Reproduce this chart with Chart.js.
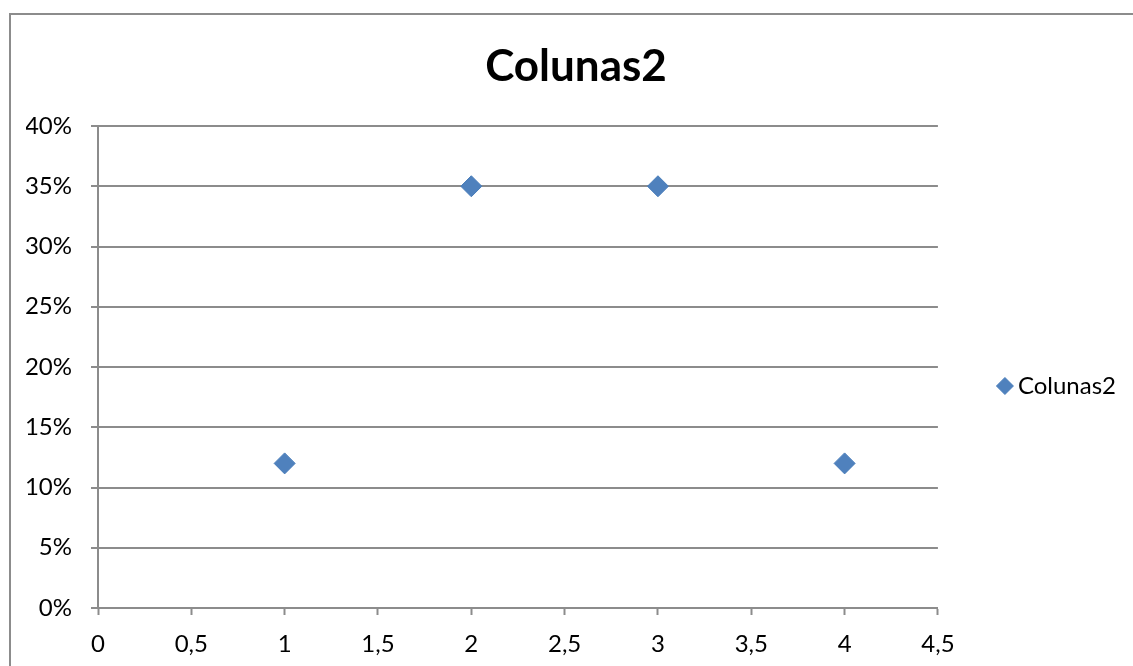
<!DOCTYPE html>
<html>
<head>
<meta charset="utf-8">
<script src="https://cdn.jsdelivr.net/npm/chart.js@4.4.1/dist/chart.umd.min.js"></script>
<style>
  html, body { margin: 0; padding: 0; background: #fff; }
  canvas { display: block; }
</style>
</head>
<body>
<canvas id="chart" width="1133" height="666"></canvas>
<script>
// Series data
const seriesName = 'Colunas2';
const xValues = [1, 2, 3, 4];
const yPercent = [12, 35, 35, 12];

// Axis tick values
const xTickValues = [0, 0.5, 1, 1.5, 2, 2.5, 3, 3.5, 4, 4.5];
const yTickValues = [0, 5, 10, 15, 20, 25, 30, 35, 40];

const GRID = '#8c8c8c';
const FONT = "Lato, 'Open Sans', sans-serif";
const TICK_SIZE = 24;

// Thin outer frame around the chart object
const framePlugin = {
  id: 'frame',
  beforeDraw(chart) {
    const ctx = chart.ctx;
    ctx.save();
    ctx.fillStyle = '#ffffff';
    ctx.fillRect(0, 0, chart.width, chart.height);
    ctx.strokeStyle = GRID;
    ctx.lineWidth = 2;
    ctx.beginPath();
    ctx.moveTo(10, chart.height);
    ctx.lineTo(10, 14);
    ctx.lineTo(chart.width, 14);
    ctx.stroke();
    ctx.restore();
  }
};

const points = xValues.map((x, i) => ({ x, y: yPercent[i] }));

new Chart(document.getElementById('chart'), {
  type: 'scatter',
  data: {
    datasets: [{
      label: seriesName,
      data: points,
      pointStyle: 'rectRot',
      pointRadius: 10.5,
      pointHoverRadius: 10.5,
      pointBackgroundColor: '#4F81BD',
      pointBorderColor: '#4A7EBB',
      pointBorderWidth: 1,
      backgroundColor: '#4F81BD',
      borderColor: '#4A7EBB',
      borderWidth: 1,
      showLine: false
    }]
  },
  options: {
    responsive: false,
    animation: false,
    devicePixelRatio: 1,
    layout: { padding: { left: 26, right: 7, top: 0, bottom: 0 } },
    plugins: {
      title: {
        display: true,
        text: seriesName,
        color: '#000',
        font: { family: FONT, size: 44, weight: 'bold', lineHeight: 1.2 },
        padding: { top: 40, bottom: 33.2 }
      },
      legend: {
        display: true,
        position: 'right',
        fullSize: false,
        title: { display: true, text: ' ', font: { size: 38, lineHeight: 1 }, padding: 0 },
        labels: {
          usePointStyle: true,
          boxWidth: 2,
          boxHeight: 12,
          padding: 66,
          color: '#000',
          font: { family: FONT, size: TICK_SIZE }
        }
      },
      tooltip: { enabled: false }
    },
    scales: {
      x: {
        type: 'linear',
        min: 0,
        max: 4.5,
        afterBuildTicks: s => { s.ticks = xTickValues.map(v => ({ value: v })); },
        afterFit: s => { s.height = 58; },
        grid: { drawOnChartArea: false, drawTicks: true, tickLength: 7, tickColor: GRID, tickWidth: 2 },
        border: { display: true, color: GRID, width: 2 },
        ticks: {
          color: '#000',
          padding: 15,
          maxRotation: 0,
          autoSkip: false,
          font: { family: FONT, size: TICK_SIZE },
          callback: v => String(v).replace('.', ',')
        }
      },
      y: {
        type: 'linear',
        min: 0,
        max: 40,
        afterBuildTicks: s => { s.ticks = yTickValues.map(v => ({ value: v })); },
        afterFit: s => { s.width = 72; },
        grid: { drawOnChartArea: true, drawTicks: true, tickLength: 7, color: GRID, lineWidth: 2, tickColor: GRID, tickWidth: 2 },
        border: { display: true, color: GRID, width: 2 },
        ticks: {
          color: '#000',
          padding: 19,
          autoSkip: false,
          font: { family: FONT, size: TICK_SIZE },
          callback: v => v + '%'
        }
      }
    }
  },
  plugins: [framePlugin]
});
</script>
</body>
</html>
